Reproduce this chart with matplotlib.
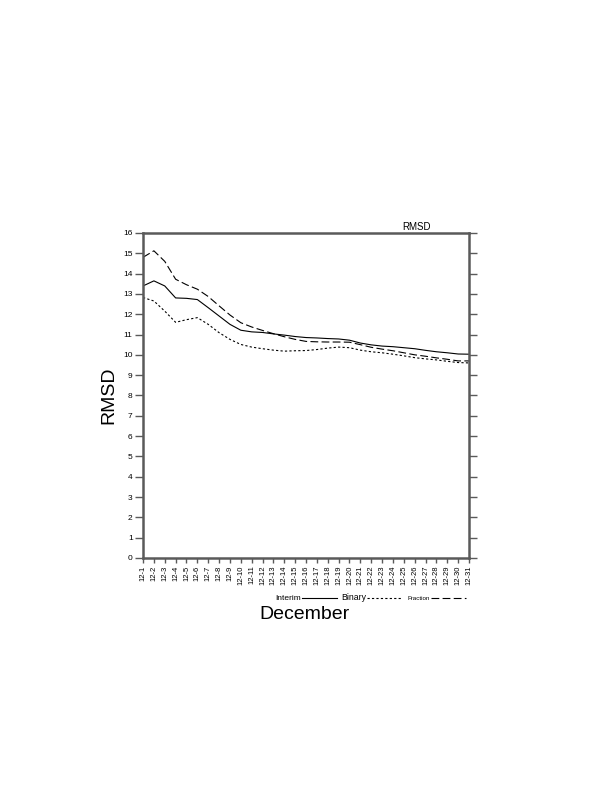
import matplotlib
matplotlib.use("Agg")
import matplotlib.pyplot as plt
import numpy as np

plt.rcParams["font.family"] = ["Liberation Sans", "DejaVu Sans"]

SPINE_COLOR = "#5a5a5a"

days = [f"12-{d}" for d in range(1, 32)]

interim = [13.39, 13.64, 13.39, 12.80, 12.78, 12.72, 12.32, 11.91, 11.50, 11.21,
           11.13, 11.10, 11.03, 10.97, 10.90, 10.85, 10.83, 10.80, 10.78, 10.72,
           10.58, 10.49, 10.43, 10.40, 10.35, 10.30, 10.22, 10.15, 10.10, 10.04,
           10.03]
binary = [12.82, 12.65, 12.15, 11.60, 11.73, 11.83, 11.50, 11.09, 10.76, 10.51,
          10.38, 10.30, 10.23, 10.18, 10.20, 10.21, 10.26, 10.33, 10.38, 10.35,
          10.23, 10.15, 10.10, 10.03, 9.95, 9.86, 9.80, 9.75, 9.68, 9.62,
          9.60]
fraction = [14.80, 15.12, 14.60, 13.72, 13.45, 13.23, 12.87, 12.41, 11.96, 11.58,
            11.37, 11.20, 11.04, 10.89, 10.76, 10.66, 10.64, 10.63, 10.63, 10.62,
            10.50, 10.37, 10.28, 10.20, 10.10, 10.00, 9.93, 9.85, 9.78, 9.70,
            9.70]

x = np.arange(len(days))

fig = plt.figure(figsize=(6.12, 7.92), dpi=100)
ax = fig.add_axes([0.2337, 0.2955, 0.5327, 0.4104])

l1, = ax.plot(x, interim, color="black", lw=0.8, ls="-", label="Interim")
l2, = ax.plot(x, binary, color="black", lw=0.8, ls=(0, (2, 2)), label="Binary")
l3, = ax.plot(x, fraction, color="black", lw=0.8, ls=(0, (7, 3)), label="Fraction")

ax.set_xlim(0, len(days) - 1)
ax.set_ylim(0, 16)
ax.set_xticks(x)
ax.set_xticklabels(days, rotation=90, fontsize=5.5)
ax.set_yticks(np.arange(0, 17, 1))
ax.tick_params(axis="y", labelsize=6, direction="out", length=5.5, width=1,
               color=SPINE_COLOR, right=True, pad=2)
ax.tick_params(axis="x", direction="out", length=3.5, width=1, color=SPINE_COLOR, pad=2)
for s in ax.spines.values():
    s.set_color(SPINE_COLOR)
    s.set_linewidth(1.8)

ax.set_ylabel("RMSD", fontsize=14, labelpad=4)
ax.text(0.84, 1.003, "RMSD", transform=ax.transAxes, ha="center", va="bottom",
        fontsize=7)

fig.text(0.498, 0.2235, "December", ha="center", va="center", fontsize=14)

leg = fig.legend(handles=[l1, l2, l3], loc="center", bbox_to_anchor=(0.605, 0.245),
                 ncol=3, markerfirst=False, frameon=False, handlelength=4.2,
                 handletextpad=0.1, columnspacing=0.6, fontsize=6)
for t, size in zip(leg.get_texts(), [6, 6.3, 4.5]):
    t.set_fontsize(size)

fig.savefig("out.png", dpi=100)
